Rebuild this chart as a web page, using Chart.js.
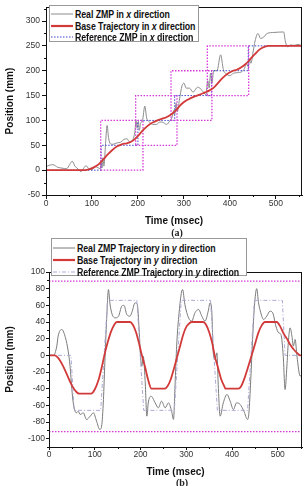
<!DOCTYPE html>
<html><head><meta charset="utf-8">
<script src="https://cdn.jsdelivr.net/npm/chart.js@4.4.0/dist/chart.umd.min.js"></script>
<style>
html,body{margin:0;padding:0;background:#fff;width:305px;height:486px;overflow:hidden;position:relative}
canvas{position:absolute;left:0}
#ca{top:0}#cb{top:240px}
.leg{position:absolute;background:#fff;border:1px solid #999;box-sizing:border-box;font:bold 11px 'Liberation Sans',Arial,sans-serif;color:#111}
.row{position:absolute;left:0;height:12px;line-height:12px;white-space:nowrap}
.row svg{position:absolute;left:1px;top:4px}
.lt{position:absolute;left:25px;top:0;transform:scaleX(0.8);transform-origin:0 50%;letter-spacing:-0.1px}
.cap{position:absolute;width:40px;text-align:center;font:bold 10px 'Liberation Serif','Times New Roman',serif;color:#222}
</style></head><body>
<canvas id="ca" width="305" height="240"></canvas>
<canvas id="cb" width="305" height="246"></canvas>
<div id="legA" class="leg" style="left:49px;top:5px;width:150px;height:37px"></div>
<div id="legB" class="leg" style="left:51px;top:238px;width:196px;height:38px"></div>
<div class="cap" style="left:157px;top:227px">(a)</div>
<div class="cap" style="left:162px;top:477px">(b)</div>
<script>
// ---------- Chart (a): x direction ----------
const xRealTime = [0,8,15,25,35,45,52,57,63,70,76,82,87,93,100,107,113,118,120,122,124,126,130,133,136,140,146,155,162,170,176,182,188,193,196,198,201,203,206,210,215,219,224,232,240,248,255,262,270,275,278,280,283,286,290,296,300,305,312,320,330,340,348,352,355,358,361,365,372,380,386,393,400,408,416,426,432,436,440,443,446,450,455,461,467,474,481,496,517,521,526,532,540,548,555];
const xRealVal = [7,10,11,6,4,3,12,18,8,2,-3,4,9,3,1,7,5,3,15,5,25,8,60,90,66,53,52,55,56,62,63,57,60,75,100,85,98,80,95,100,129,105,98,92,92,97,96,92,100,108,120,112,135,118,140,170,175,165,165,157,167,160,152,180,165,195,175,200,200,232,202,193,190,195,196,198,205,215,208,222,215,235,260,275,265,268,275,277,278,258,248,252,251,253,251];
const xBaseTime = [0,85,95,105,115,125,135,145,155,165,175,185,195,205,215,225,235,245,255,265,275,285,295,305,315,325,335,345,355,365,375,385,395,405,415,425,435,445,455,465,475,485,557];
const xBaseVal = [0,0,2,6,12,22,32,41,48,52,54,57,64,74,84,92,97,101,104,108,114,123,133,140,145,149,152,156,160,166,176,186,194,199,202,207,214,224,234,243,248,250,250];
const xRefStepTime = [0,120,200,280,360,440];
const xRefStepVal = [0,50,100,150,200,250];
const boxLeft = [119,195,272,351];
const boxRight = [211,285,361,441];
const boxBottom = [0,50,100,150];
const boxTop = [100,150,200,250];
const xAxisMaxA = 557;
const yTicksA = {min:-50, max:328, step:50};
const legendA = ['Real ZMP in x direction','Base Trajectory in x direction','Reference ZMP in x direction'];

// ---------- Chart (b): y direction ----------
const yRealTime = [0,10,17,20,28,36,42,46,50,53,57,60,64,68,75,82,90,97,104,111,115,119,122,126,130,133,137,144,152,159,164,170,177,182,188,193,197,200,203,206,210,214,217,223,232,239,246,254,261,268,272,276,279,283,292,297,305,312,319,327,334,341,348,352,356,359,363,367,370,374,381,389,396,403,410,418,426,434,437,441,445,449,454,458,463,469,476,483,489,496,502,507,512,516,520,523,527,531,534,538,542,549,553];
const yRealVal = [0,0,11,23,31,21,5,-13,-41,-57,-67,-69,-67,-71,-69,-77,-73,-69,-79,-89,-85,-53,-9,43,79,63,51,45,47,59,60,49,47,53,63,61,31,-1,-13,-1,-29,-73,-57,-49,-57,-63,-55,-63,-57,-67,-77,-29,11,43,79,61,45,41,51,55,47,41,53,63,51,3,-5,3,-37,-73,-57,-47,-55,-65,-57,-59,-67,-77,-69,-29,19,59,80,63,51,43,47,53,51,35,27,25,-1,-41,-13,15,33,23,11,19,-1,-25,-22];
const yBaseTime = [0,12,20,30,40,50,60,66,92,100,108,115,121,128,136,143,148,177,183,190,197,203,210,217,224,253,259,266,273,280,287,294,301,308,312,337,343,350,357,362,369,376,383,386,414,420,427,434,443,450,457,464,472,498,505,512,520,527,535,542,549,553];
const yBaseVal = [0,0,-3,-12,-24,-36,-44,-46,-46,-41,-30,-15,0,15,29,37,40,40,37,28,14,0,-14,-30,-40,-40,-37,-29,-16,-2,12,26,35,39,40,40,37,28,14,0,-14,-28,-37,-40,-40,-37,-28,-16,0,13,26,35,40,40,35,27,20,13,7,3,0,0];
const yRefTime = [0,48,55,113,128,192,207,274,289,353,368,434,449,510,516,553];
const yRefVal = [0,0,-66,-66,66,66,-66,-66,66,66,-66,-66,66,66,0,0];
const yLimits = [89,-91.5];
const xAxisMaxB = 553;
const yTicksB = {min:-110, max:100, step:20};
const legendB = ['Real ZMP Trajectory in y direction','Base Trajectory in y direction','Reference ZMP Trajectory in y direction'];

// ---------- helpers ----------
const FONT = "'Liberation Sans',Arial,sans-serif";
Chart.defaults.font.family = FONT;
Chart.defaults.color = '#222';
const pts = (ts, vs) => ts.map((t,i) => ({x:t, y:vs[i]}));
function steps(ts, vs, end){
  const out = [];
  for (let i=0;i<ts.length;i++){
    out.push({x:ts[i], y:vs[i]});
    out.push({x:(i+1<ts.length?ts[i+1]:end), y:vs[i]});
  }
  return out;
}
const boxPts = i => [{x:boxLeft[i],y:boxBottom[i]},{x:boxRight[i],y:boxBottom[i]},{x:boxRight[i],y:boxTop[i]},{x:boxLeft[i],y:boxTop[i]},{x:boxLeft[i],y:boxBottom[i]}];

const framePlugin = {
  id:'frame',
  afterDraw(chart, args, o){
    const {ctx, chartArea:a, scales:{x,y}} = chart;
    ctx.save();
    ctx.strokeStyle = '#111'; ctx.lineWidth = 1;
    ctx.strokeRect(Math.round(a.left)+0.5, Math.round(a.top)+0.5, Math.round(a.right-a.left)-1, Math.round(a.bottom-a.top));
    ctx.beginPath();
    for (let v=Math.ceil(x.min/o.mx)*o.mx; v<=x.max; v+=o.mx){
      if (Math.abs(v % o.MX) < 1e-6) continue;
      const px = Math.round(x.getPixelForValue(v))+0.5;
      ctx.moveTo(px, a.bottom); ctx.lineTo(px, a.bottom+o.len);
    }
    for (let v=Math.ceil(y.min/o.my)*o.my; v<=y.max; v+=o.my){
      if (Math.abs(v % o.MY) < 1e-6) continue;
      const py = Math.round(y.getPixelForValue(v))+0.5;
      ctx.moveTo(a.left, py); ctx.lineTo(a.left-o.len, py);
    }
    ctx.stroke();
    ctx.restore();
  }
};

function axis(opts){
  return {
    type:'linear', min:opts.min, max:opts.max,
    ticks:{stepSize:opts.step, includeBounds:false, font:{size:8.5}, color:'#333', padding:opts.pad, maxRotation:0, autoSkip:false},
    grid:{display:true, drawOnChartArea:false, drawTicks:true, tickLength:opts.tl, color:'#111'},
    border:{display:true, color:'#111'},
    title:{display:true, text:opts.title, font:{size:10, weight:'bold'}, color:'#111', padding:opts.tpad},
    afterFit:opts.fit
  };
}
const common = (padding, minor) => ({
  responsive:false, animation:false, devicePixelRatio:1,
  layout:{padding},
  plugins:{legend:{display:false}, tooltip:{enabled:false}, frame:minor},
  elements:{point:{radius:0}, line:{fill:false}}
});

// ---------- chart (a) ----------
const magentaA = boxLeft.map((_,i) => ({label:'box'+i, data:boxPts(i), borderColor:'#d43ad8', borderWidth:1.3, borderDash:[1.5,1.5], order:1, tension:0}));
new Chart(document.getElementById('ca'), {
  type:'line',
  data:{datasets:[
    {label:legendA[1], data:pts(xBaseTime,xBaseVal), borderColor:'#d23a3a', borderWidth:1.8, cubicInterpolationMode:'monotone', order:0},
    ...magentaA,
    {label:legendA[2], data:steps(xRefStepTime,xRefStepVal,xAxisMaxA), borderColor:'#4040cc', borderWidth:1, borderDash:[1.5,1.5], order:2, tension:0},
    {label:legendA[0], data:pts(xRealTime,xRealVal), borderColor:'#8c8c8c', borderWidth:1, cubicInterpolationMode:'monotone', order:3}
  ]},
  options:{...common({left:0,right:3,top:5,bottom:12},{mx:50,MX:100,my:25,MY:50,len:2}),
    scales:{
      x:axis({min:0,max:xAxisMaxA,step:100,pad:0,tl:4,title:'Time (msec)',tpad:{top:2,bottom:1},fit:s=>{s.height=33;}}),
      y:axis({min:yTicksA.min,max:yTicksA.max,step:yTicksA.step,pad:2,tl:4,title:'Position (mm)',tpad:{top:4,bottom:0},fit:s=>{s.width=46;}})
    }},
  plugins:[framePlugin]
});

// ---------- chart (b) ----------
const limitsB = yLimits.map((v,i) => ({label:'limit'+i, data:[{x:0,y:v},{x:xAxisMaxB,y:v}], borderColor:'#d43ad8', borderWidth:1.3, borderDash:[1.5,1.5], order:1}));
new Chart(document.getElementById('cb'), {
  type:'line',
  data:{datasets:[
    {label:legendB[1], data:pts(yBaseTime,yBaseVal), borderColor:'#d23a3a', borderWidth:1.8, cubicInterpolationMode:'monotone', order:0},
    ...limitsB,
    {label:legendB[2], data:pts(yRefTime,yRefVal), borderColor:'#a9a9d6', borderWidth:1, borderDash:[4,2,1,2], order:2, tension:0},
    {label:legendB[0], data:pts(yRealTime,yRealVal), borderColor:'#7a7a7a', borderWidth:1, cubicInterpolationMode:'monotone', order:3}
  ]},
  options:{...common({left:0,right:3,top:32,bottom:7},{mx:50,MX:100,my:10,MY:20,len:2}),
    scales:{
      x:axis({min:0,max:xAxisMaxB,step:100,pad:0,tl:3,title:'Time (msec)',tpad:{top:2,bottom:1},fit:s=>{s.height=32;}}),
      y:axis({min:yTicksB.min,max:yTicksB.max,step:yTicksB.step,pad:1,tl:3,title:'Position (mm)',tpad:{top:4,bottom:0},fit:s=>{s.width=49;}})
    }},
  plugins:[framePlugin]
});

// ---------- HTML legends ----------
function buildLegend(el, labels, styles, tops){
  el.innerHTML = labels.map((lab,i) => {
    const s = styles[i];
    const html = lab.replace(/ (x|y) direction/, ' <i>$1</i> direction');
    return `<div class="row" style="top:${tops[i]}px"><svg width="22" height="4"><line x1="0" y1="2" x2="22" y2="2" stroke="${s.c}" stroke-width="${s.w}" ${s.d?`stroke-dasharray="${s.d}"`:''}/></svg><span class="lt">${html}</span></div>`;
  }).join('');
}
buildLegend(document.getElementById('legA'), legendA,
  [{c:'#8c8c8c',w:1},{c:'#d23a3a',w:2.2},{c:'#4040cc',w:1,d:'1.5,1.5'}], [2,14,25]);
buildLegend(document.getElementById('legB'), legendB,
  [{c:'#7a7a7a',w:1},{c:'#d23a3a',w:2.2},{c:'#a9a9d6',w:1,d:'4,2,1,2'}], [3,15,27]);
</script>
</body></html>
